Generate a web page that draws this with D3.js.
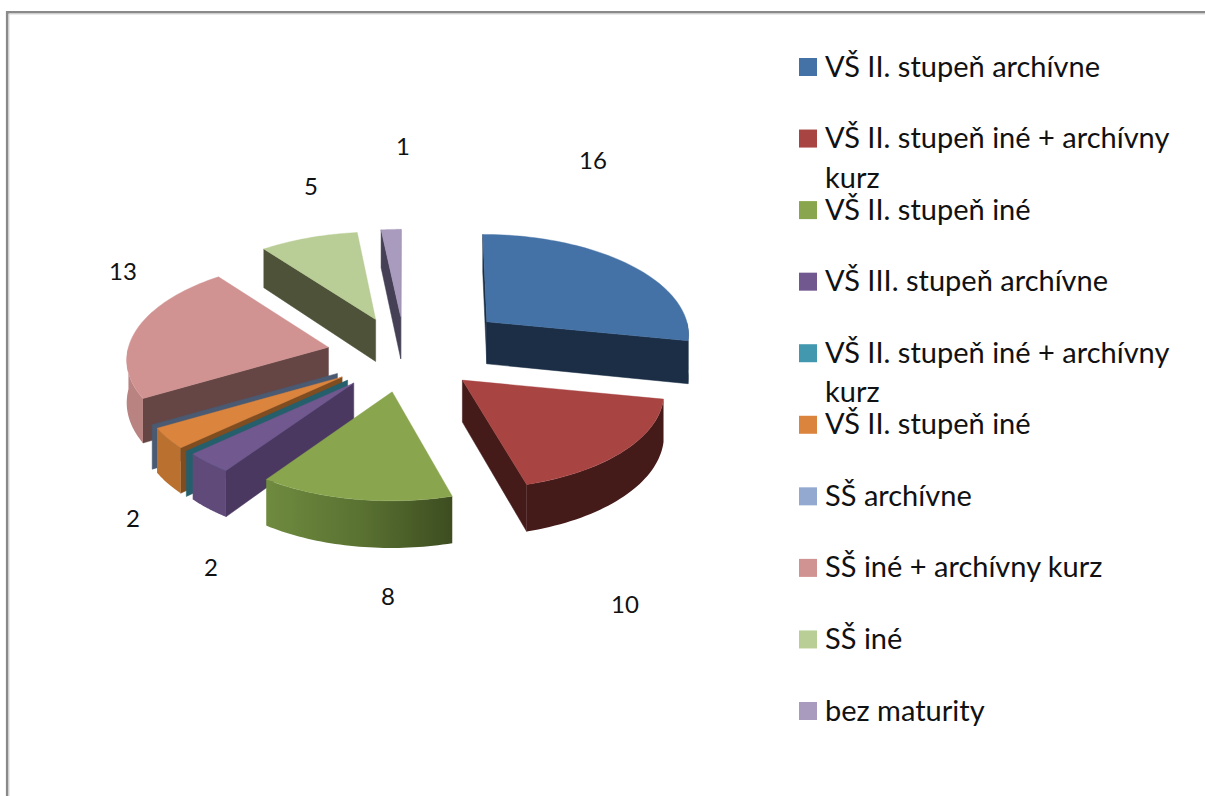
<!DOCTYPE html>
<html>
<head>
<meta charset="utf-8">
<script src="https://cdn.jsdelivr.net/npm/d3@7/dist/d3.min.js"></script>
<style>
html,body{margin:0;padding:0;background:#fff;overflow:hidden}
svg{display:block}
text{font-family:Lato,"Open Sans",sans-serif;fill:#111}
</style>
</head>
<body>
<svg id="c" width="1205" height="796"></svg>
<script>
// data
const categories = ["VŠ II. stupeň archívne","VŠ II. stupeň iné + archívny kurz","VŠ II. stupeň iné","VŠ III. stupeň archívne","VŠ II. stupeň iné + archívny kurz","VŠ II. stupeň iné","SŠ archívne","SŠ iné + archívny kurz","SŠ iné","bez maturity"];
const values = [16,10,8,2,0,2,0,13,5,1];
const topColors  = ["#4472a6","#a84543","#89a54e","#71588f","#4198af","#db843d","#93a9cf","#d19392","#b9cd96","#a99bbd"];
const wallColors = ["#1b2e45","#451b1a","#3f4f22","#4b3860","#265f6c","#7f4d20","#4a5a72","#654645","#4d5238","#454056"];
const rimColors  = ["#1b2e45","#451b1a","url(#greenRim)","#604a7a","#265f6c","#ba7130","#4a5a72","#b88381","#4d5238","#454056"];
const explode    = [0.53,0.39,0.39,0.39,0.39,0.39,0.39,0.39,0.39,0.39];
const paintOrder = [9,8,0,7,6,5,4,3,1,2];
const labelAnchor = [[593,161],[625,605],[388,597],[211,568],null,[133,519],null,[123,272],[311,187],[403,147]];

const W=1205,H=796;
const cx=405, cy=354.5, rx=200, ry=97, persp=0.11, depth=42;
const svg=d3.select("#c");

// frame
svg.append("path").attr("d",`M7.2 ${H}V12.2H${W}`).attr("fill","none").attr("stroke","#8a8a8a").attr("stroke-width",2.6);
svg.append("path").attr("d",`M9 ${H}V14H${W}`).attr("fill","none").attr("stroke","#d8d8d8").attr("stroke-width",1);

const defs=svg.append("defs");
const g=defs.append("linearGradient").attr("id","greenRim").attr("x1","0").attr("x2","1").attr("y1","0").attr("y2","0");
g.append("stop").attr("offset","0").attr("stop-color","#6f8b3f");
g.append("stop").attr("offset","0.5").attr("stop-color","#5a7232");
g.append("stop").attr("offset","1").attr("stop-color","#3d4d20");

const pie=d3.pie().sort(null).value(d=>d).startAngle(0).endAngle(2*Math.PI);
const arcs=pie(values);

function local(a,r){ // a clockwise from top; returns screen offset from slice apex
  const x=Math.sin(a)*r, y=-Math.cos(a)*r, s=1/(1-persp*y);
  return {x:x*rx*s, y:y*ry*s, s};
}
const line=d3.line().x(d=>d[0]).y(d=>d[1]);
const pieG=svg.append("g");

paintOrder.forEach(i=>{
  const d=arcs[i], mid=(d.startAngle+d.endAngle)/2;
  const dx=Math.sin(mid)*explode[i]*rx;
  const ox=cx+dx;
  const oy=cy-Math.cos(mid)*explode[i]*ry;
  const top=a=>{const p=local(a,1);return [ox+p.x+dx*(p.s-1)*0.5,oy+p.y]};
  const bot=a=>{const p=local(a,1);return [ox+p.x+dx*(p.s-1)*0.5,oy+p.y+depth*p.s]};
  const apexT=[ox,oy], apexB=[ox,oy+depth];
  const nStart=-Math.cos(d.startAngle-Math.PI/2);
  const nEnd=-Math.cos(d.endAngle+Math.PI/2);
  const wall=a=>pieG.append("path").attr("d",line([apexT,top(a),bot(a),apexB])+"Z")
      .attr("fill",wallColors[i]).attr("stroke",wallColors[i]).attr("stroke-width",0.5);
  if(nEnd>-0.01) wall(d.endAngle);
  if(nStart>-0.01) wall(d.startAngle);
  const a0=Math.max(d.startAngle,Math.PI/2), a1=Math.min(d.endAngle,3*Math.PI/2);
  if(a1>a0){
    const n=40, as=d3.range(n+1).map(k=>a0+(a1-a0)*k/n);
    pieG.append("path").attr("d",line(as.map(top).concat(as.slice().reverse().map(bot)))+"Z")
      .attr("fill",rimColors[i]);
  }
  if(d.endAngle>d.startAngle){
    const n=60, as=d3.range(n+1).map(k=>d.startAngle+(d.endAngle-d.startAngle)*k/n);
    pieG.append("path").attr("d",line([apexT].concat(as.map(top)))+"Z")
      .attr("fill",topColors[i]).attr("stroke",topColors[i]).attr("stroke-width",0.4);
  }
});

// data labels
values.forEach((v,i)=>{
  if(!v) return;
  svg.append("text").attr("x",labelAnchor[i][0]).attr("y",labelAnchor[i][1]+8)
    .attr("text-anchor","middle").attr("font-size",24).text(v);
});

// legend
const legendY=d3.scalePoint().domain(d3.range(categories.length)).range([67,711]);
const leg=svg.append("g");
categories.forEach((c,i)=>{
  const y=legendY(i);
  leg.append("rect").attr("x",799).attr("y",y-9).attr("width",18).attr("height",18).attr("fill",topColors[i]);
  const t=leg.append("text").attr("x",825).attr("y",y+9.5).attr("font-size",29);
  const k=c.indexOf(" kurz");
  if(c.startsWith("VŠ")&&k>0){
    t.text(c.slice(0,k));
    leg.append("text").attr("x",825).attr("y",y+49).attr("font-size",29).text("kurz");
  } else t.text(c);
});
</script>
</body>
</html>
